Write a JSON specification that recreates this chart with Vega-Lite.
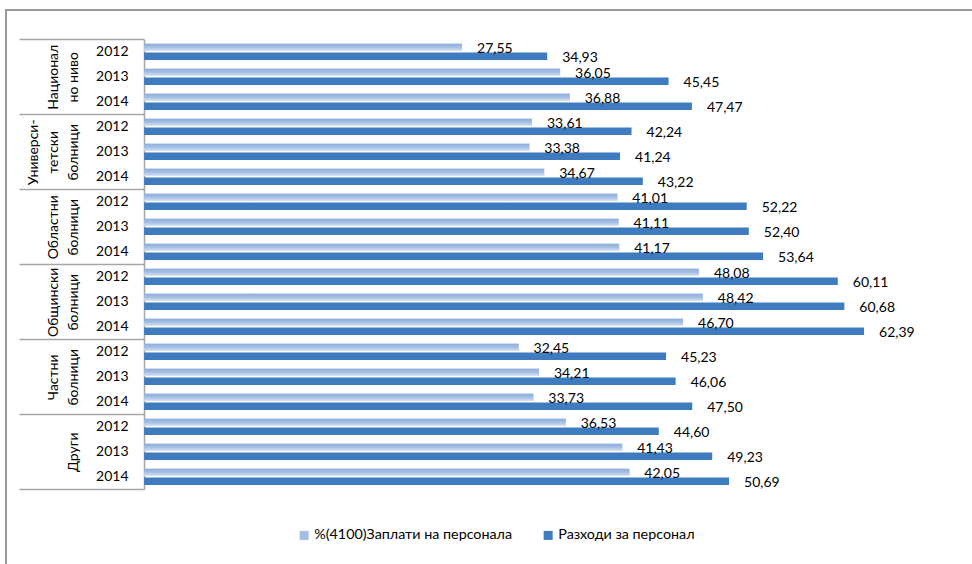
{
  "$schema": "https://vega.github.io/schema/vega-lite/v6.json",
  "width": 966,
  "height": 554,
  "autosize": {"type": "none"},
  "padding": {"left": 6, "top": 10, "right": 0, "bottom": 0},
  "data": {
    "values": [
      {"group": "Национал\nно ниво", "year": "2012", "series": "%(4100)Заплати на персонала", "value": 27.55},
      {"group": "Национал\nно ниво", "year": "2012", "series": "Разходи за персонал", "value": 34.93},
      {"group": "Национал\nно ниво", "year": "2013", "series": "%(4100)Заплати на персонала", "value": 36.05},
      {"group": "Национал\nно ниво", "year": "2013", "series": "Разходи за персонал", "value": 45.45},
      {"group": "Национал\nно ниво", "year": "2014", "series": "%(4100)Заплати на персонала", "value": 36.88},
      {"group": "Национал\nно ниво", "year": "2014", "series": "Разходи за персонал", "value": 47.47},
      {"group": "Универси-\nтетски\nболници", "year": "2012", "series": "%(4100)Заплати на персонала", "value": 33.61},
      {"group": "Универси-\nтетски\nболници", "year": "2012", "series": "Разходи за персонал", "value": 42.24},
      {"group": "Универси-\nтетски\nболници", "year": "2013", "series": "%(4100)Заплати на персонала", "value": 33.38},
      {"group": "Универси-\nтетски\nболници", "year": "2013", "series": "Разходи за персонал", "value": 41.24},
      {"group": "Универси-\nтетски\nболници", "year": "2014", "series": "%(4100)Заплати на персонала", "value": 34.67},
      {"group": "Универси-\nтетски\nболници", "year": "2014", "series": "Разходи за персонал", "value": 43.22},
      {"group": "Областни\nболници", "year": "2012", "series": "%(4100)Заплати на персонала", "value": 41.01},
      {"group": "Областни\nболници", "year": "2012", "series": "Разходи за персонал", "value": 52.22},
      {"group": "Областни\nболници", "year": "2013", "series": "%(4100)Заплати на персонала", "value": 41.11},
      {"group": "Областни\nболници", "year": "2013", "series": "Разходи за персонал", "value": 52.40},
      {"group": "Областни\nболници", "year": "2014", "series": "%(4100)Заплати на персонала", "value": 41.17},
      {"group": "Областни\nболници", "year": "2014", "series": "Разходи за персонал", "value": 53.64},
      {"group": "Общински\nболници", "year": "2012", "series": "%(4100)Заплати на персонала", "value": 48.08},
      {"group": "Общински\nболници", "year": "2012", "series": "Разходи за персонал", "value": 60.11},
      {"group": "Общински\nболници", "year": "2013", "series": "%(4100)Заплати на персонала", "value": 48.42},
      {"group": "Общински\nболници", "year": "2013", "series": "Разходи за персонал", "value": 60.68},
      {"group": "Общински\nболници", "year": "2014", "series": "%(4100)Заплати на персонала", "value": 46.70},
      {"group": "Общински\nболници", "year": "2014", "series": "Разходи за персонал", "value": 62.39},
      {"group": "Частни\nболници", "year": "2012", "series": "%(4100)Заплати на персонала", "value": 32.45},
      {"group": "Частни\nболници", "year": "2012", "series": "Разходи за персонал", "value": 45.23},
      {"group": "Частни\nболници", "year": "2013", "series": "%(4100)Заплати на персонала", "value": 34.21},
      {"group": "Частни\nболници", "year": "2013", "series": "Разходи за персонал", "value": 46.06},
      {"group": "Частни\nболници", "year": "2014", "series": "%(4100)Заплати на персонала", "value": 33.73},
      {"group": "Частни\nболници", "year": "2014", "series": "Разходи за персонал", "value": 47.50},
      {"group": "Други", "year": "2012", "series": "%(4100)Заплати на персонала", "value": 36.53},
      {"group": "Други", "year": "2012", "series": "Разходи за персонал", "value": 44.60},
      {"group": "Други", "year": "2013", "series": "%(4100)Заплати на персонала", "value": 41.43},
      {"group": "Други", "year": "2013", "series": "Разходи за персонал", "value": 49.23},
      {"group": "Други", "year": "2014", "series": "%(4100)Заплати на персонала", "value": 42.05},
      {"group": "Други", "year": "2014", "series": "Разходи за персонал", "value": 50.69}
    ]
  },
  "transform": [
    {"calculate": "datum.group + '|' + datum.year", "as": "row"}
  ],
  "layer": [
    {
      "encoding": {
        "y": {
          "field": "row",
          "type": "nominal",
          "sort": null,
          "scale": {"range": [29.3, 479.3], "paddingInner": 0, "paddingOuter": 0},
          "axis": {
            "orient": "left",
            "offset": -138,
            "title": null,
            "ticks": false,
            "grid": false,
            "labelPadding": 16,
            "labelFont": "Lato",
            "labelFontSize": 14,
            "labelColor": "#000000",
            "labelExpr": "split(datum.label, '|')[1]",
            "domainColor": "#a6a6a6",
            "domainWidth": 1.5
          }
        },
        "yOffset": {
          "field": "series",
          "type": "nominal",
          "sort": null,
          "scale": {"paddingInner": 0.17, "paddingOuter": 0.5}
        },
        "x": {
          "field": "value",
          "type": "quantitative",
          "stack": null,
          "scale": {"domain": [-11.967, 71.742], "nice": false, "zero": false},
          "axis": null
        }
      },
      "layer": [
        {
          "mark": {"type": "bar"},
          "encoding": {
            "color": {
              "field": "series",
              "type": "nominal",
              "scale": {
                "domain": ["%(4100)Заплати на персонала", "Разходи за персонал"],
                "range": ["#a4bee3", "#3f7cbf"]
              },
              "legend": {
                "orient": "none",
                "legendX": 291,
                "legendY": 518,
                "direction": "horizontal",
                "columns": 2,
                "title": null,
                "symbolType": "square",
                "symbolSize": 81,
                "symbolStrokeWidth": 0,
                "labelFont": "Lato",
                "labelFontSize": 14.3,
                "labelColor": "#000000",
                "labelLimit": 0,
                "labelOffset": 3,
                "columnPadding": 28,
                "padding": 0,
                "encode": {
                  "symbols": {
                    "update": {
                      "fill": [
                        {
                          "test": "datum.value === '%(4100)Заплати на персонала'",
                          "value": {
                            "gradient": "linear",
                            "x1": 0, "y1": 0, "x2": 0, "y2": 1,
                            "stops": [
                              {"offset": 0, "color": "#8dadda"},
                              {"offset": 0.55, "color": "#a9c2e5"},
                              {"offset": 1, "color": "#dbe6f4"}
                            ]
                          }
                        },
                        {"value": "#3f7cbf"}
                      ]
                    }
                  }
                }
              }
            }
          }
        },
        {
          "transform": [{"filter": "datum.series === '%(4100)Заплати на персонала'"}],
          "mark": {
            "type": "bar",
            "color": {
              "gradient": "linear",
              "x1": 0, "y1": 0, "x2": 0, "y2": 1,
              "stops": [
                {"offset": 0, "color": "#8dadda"},
                {"offset": 0.55, "color": "#a9c2e5"},
                {"offset": 1, "color": "#dbe6f4"}
              ]
            }
          }
        },
        {
          "mark": {
            "type": "text",
            "align": "left",
            "baseline": "middle",
            "dx": 15,
            "dy": 1.5,
            "font": "Lato",
            "fontSize": 14,
            "color": "#000000"
          },
          "encoding": {
            "text": {"field": "value", "type": "quantitative", "format": ".2f"}
          }
        }
      ]
    },
    {
      "mark": {"type": "text", "text": ""},
      "encoding": {
        "y": {
          "field": "group",
          "type": "nominal",
          "sort": null,
          "scale": {"range": [29.3, 479.3], "paddingInner": 0, "paddingOuter": 0},
          "axis": {
            "orient": "left",
            "offset": -138,
            "title": null,
            "domain": false,
            "grid": false,
            "ticks": true,
            "tickBand": "extent",
            "tickSize": 125,
            "tickColor": "#a6a6a6",
            "tickWidth": 1.5,
            "labelAngle": -90,
            "labelAlign": "center",
            "labelBaseline": "bottom",
            "labelPadding": -61,
            "labelLineHeight": -20,
            "labelFont": "Lato",
            "labelFontSize": 14,
            "labelColor": "#000000",
            "labelOverlap": false,
            "labelLimit": 0,
            "labelExpr": "reverse(split(datum.label, '\\n'))"
          }
        }
      }
    }
  ],
  "resolve": {"scale": {"y": "independent"}},
  "config": {
    "font": "Lato",
    "background": "#ffffff",
    "locale": {
      "number": {"decimal": ",", "thousands": " ", "grouping": [3], "currency": ["", " лв."]}
    },
    "view": {"stroke": "#9a9a9a", "strokeWidth": 2, "strokeDash": [966, 1520, 554]}
  }
}
